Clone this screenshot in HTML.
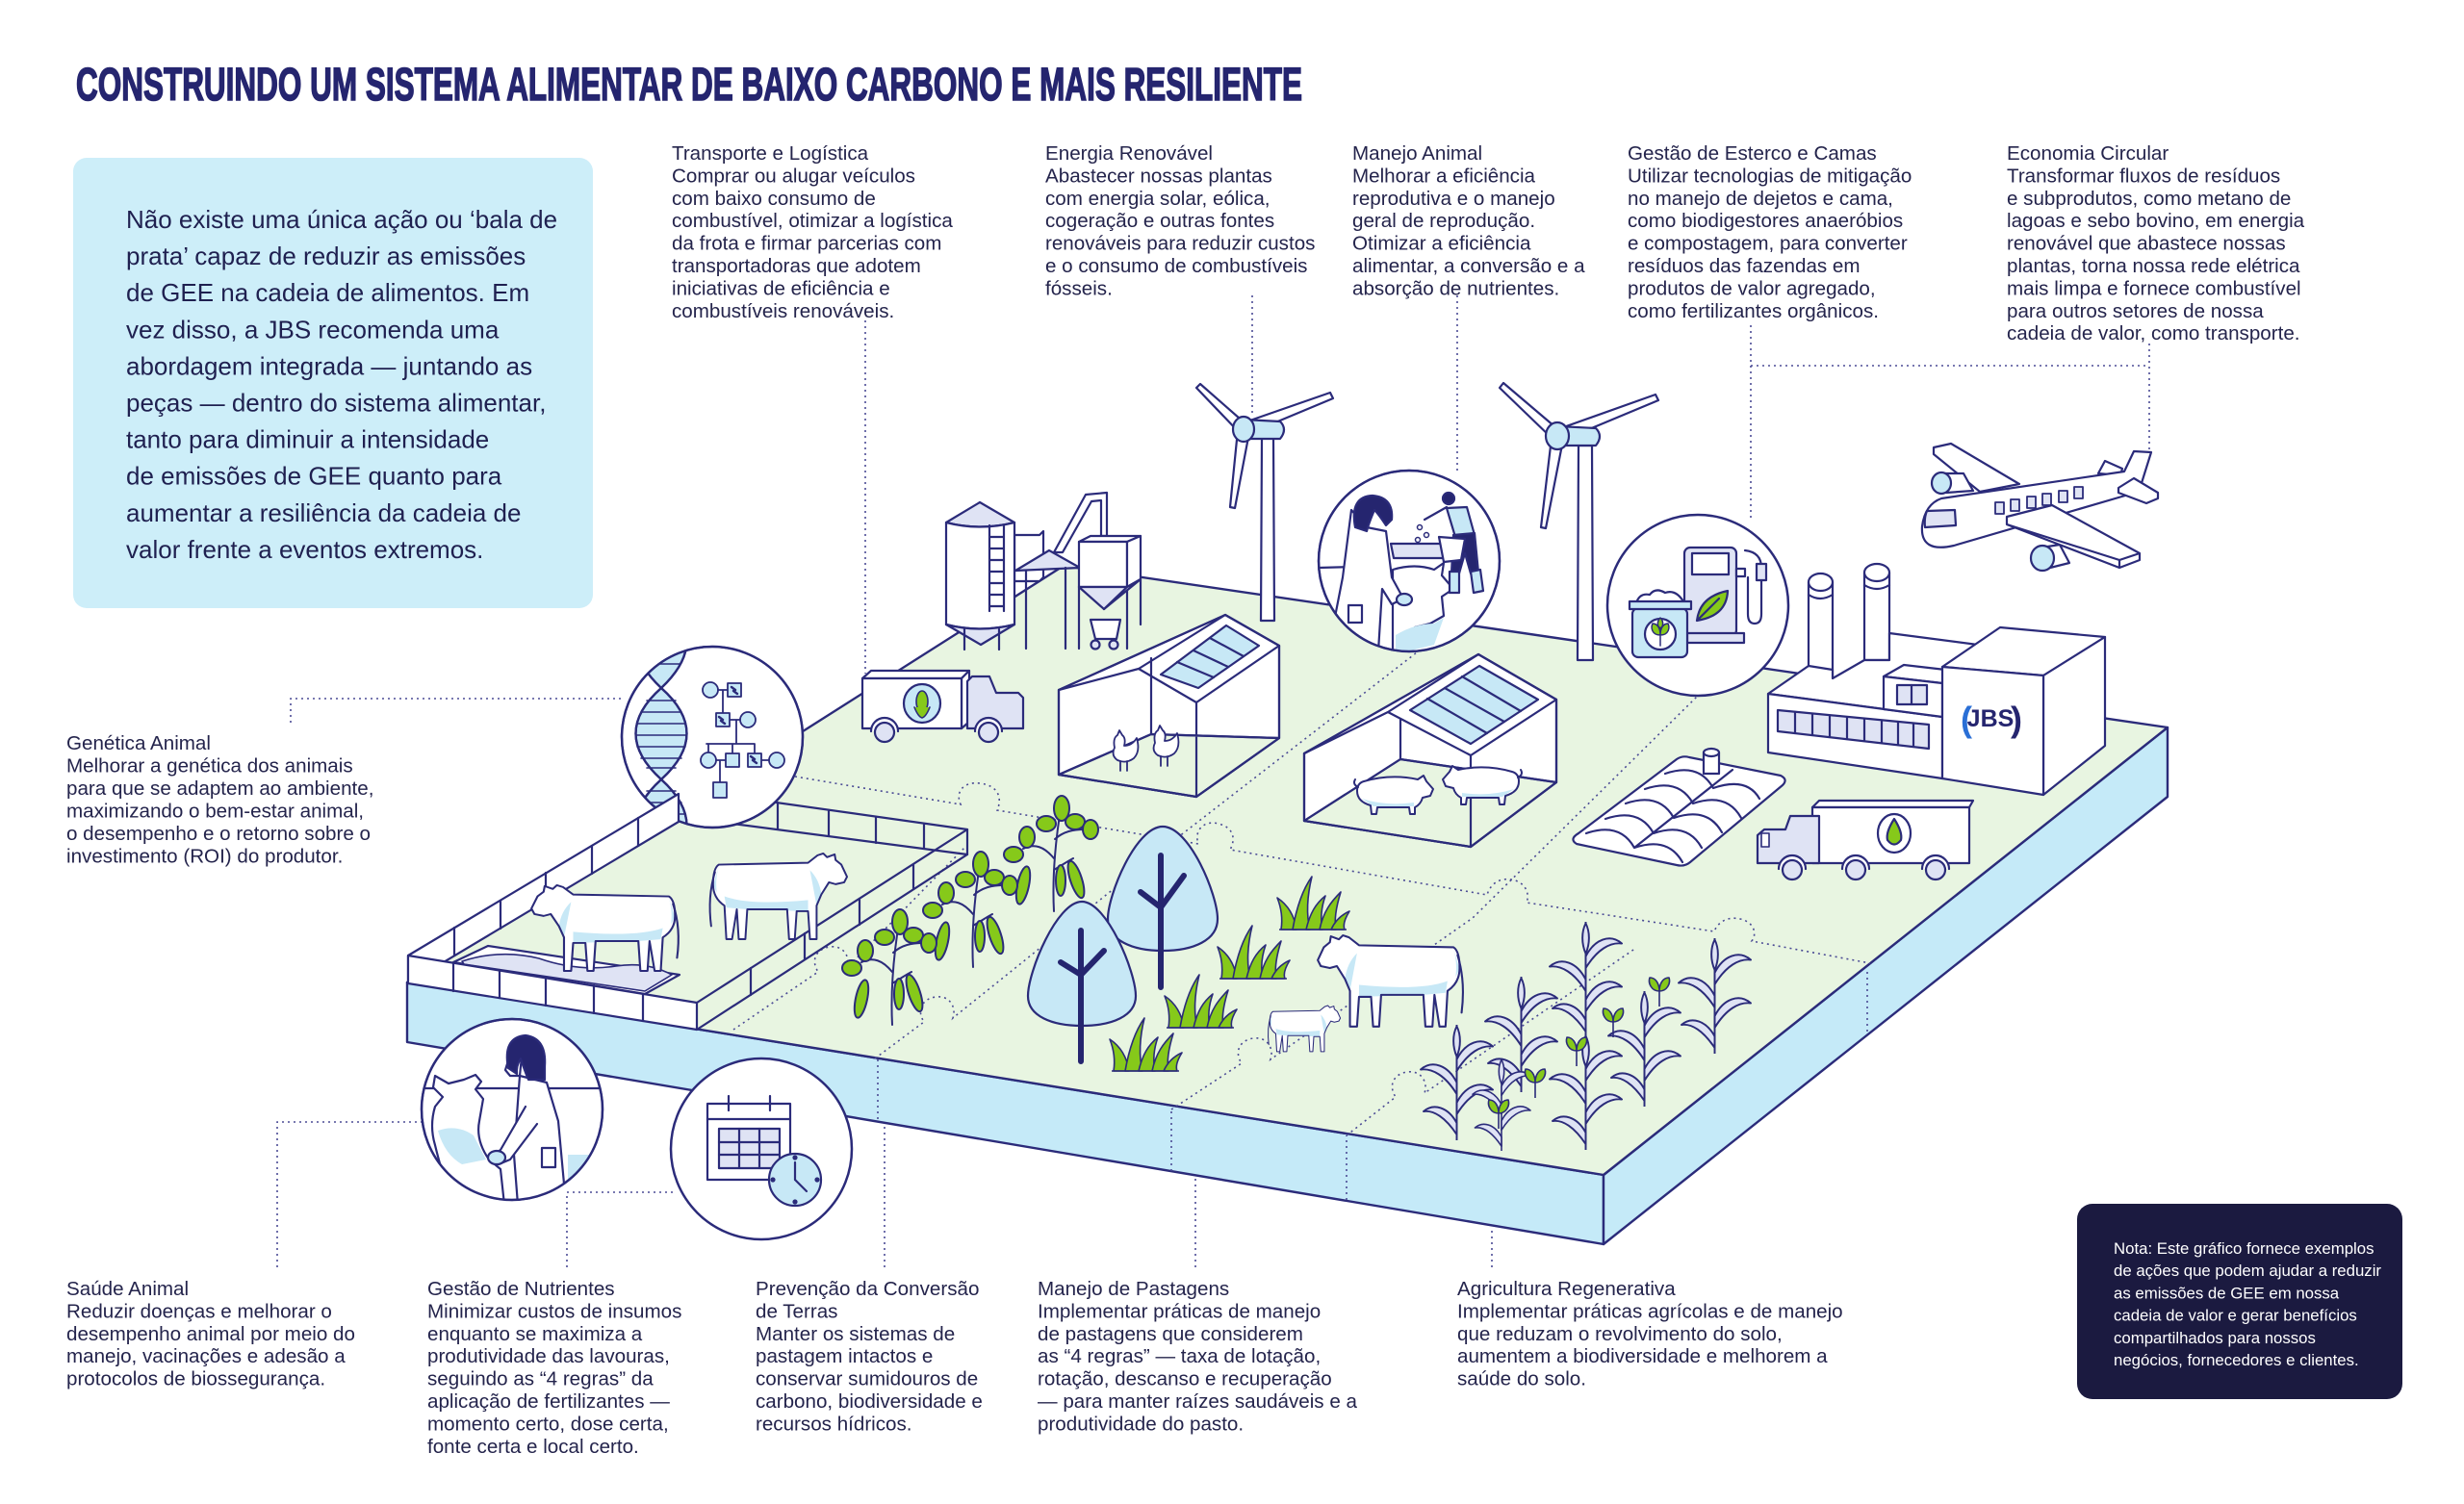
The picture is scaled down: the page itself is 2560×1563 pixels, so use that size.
<!DOCTYPE html>
<html lang="pt"><head><meta charset="utf-8"><title>Construindo um sistema alimentar de baixo carbono</title>
<style>
html,body{margin:0;padding:0;background:#fff;}
svg{display:block;}
text{font-family:"Liberation Sans",Arial,sans-serif;}
</style></head><body>
<svg width="2560" height="1563" viewBox="0 0 2560 1563" xmlns="http://www.w3.org/2000/svg" xmlns:xlink="http://www.w3.org/1999/xlink">
<defs>
<clipPath id="cDNA"><circle cx="740" cy="766" r="94"/></clipPath>
<clipPath id="cVet"><circle cx="532" cy="1153" r="94"/></clipPath>
<clipPath id="cMan"><circle cx="1464" cy="583" r="94"/></clipPath>
<g id="cow" stroke="#2b2b7a" stroke-width="2" stroke-linejoin="round" stroke-linecap="round">
<path fill="#fff" stroke="none" d="M18,14 L112,12 L122,4 L128,2 L132,6 L140,3 L141,9 L147,14 L153,27 L150,33 L141,35 L134,33 L126,46 L121,58 L121,94 L114,94 L112,64 L100,64 L98,94 L92,94 L90,62 L48,62 L46,94 L39,94 L37,62 L32,94 L26,94 L24,58 Q12,50 12,35 Q12,18 18,14 Z"/>
<path fill="#c7e8f6" stroke="none" d="M24,48 Q50,58 112,52 L112,64 L48,62 L26,60 Z M114,20 Q124,30 126,46 L121,58 Z M18,16 Q14,30 16,44 L12,36 Z"/>
<path fill="none" d="M18,14 L112,12 L122,4 L128,2 L132,6 L140,3 L141,9 L147,14 L153,27 L150,33 L141,35 L134,33 L126,46 L121,58 L121,94 L114,94 L112,64 L100,64 L98,94 L92,94 L90,62 L48,62 L46,94 L39,94 L37,62 L32,94 L26,94 L24,58 Q12,50 12,35 Q12,18 18,14 Z"/>
<path fill="none" d="M14,22 Q6,48 10,80"/>
</g>
<g id="pig" stroke="#2b2b7a" stroke-width="2" stroke-linejoin="round">
<path fill="#fff" d="M12,10 Q40,2 68,8 L74,4 L77,10 L84,18 L81,25 L73,27 Q71,34 65,37 L65,44 L60,44 L59,37 L26,37 L25,44 L20,44 L19,35 Q5,31 5,20 Q5,12 12,10Z"/>
<path fill="#c7e8f6" stroke="none" d="M10,28 Q35,36 64,32 L64,36 L22,36 Z"/>
<path fill="none" d="M6,16 Q0,13 3,8"/>
</g>
<g id="hen" stroke="#2b2b7a" stroke-width="1.8" stroke-linejoin="round">
<path fill="#fff" d="M10,20 Q8,10 13,7 L15,2 L18,7 Q22,10 20,18 Q28,18 33,10 Q37,24 30,31 Q22,37 13,33 Q6,28 10,20Z"/>
<path fill="none" d="M16,34 L16,44 M23,34 L23,44"/>
</g>
<g id="soy" stroke="#2b2b7a" stroke-width="2" stroke-linejoin="round" stroke-linecap="round">
<path fill="none" d="M50,117 C48,80 52,40 58,4 M50,62 C40,50 30,46 18,52 M51,42 C60,34 70,32 82,32 M50,74 C60,68 66,64 70,62"/>
<g fill="#86c91a">
<ellipse cx="58" cy="10" rx="8" ry="13"/>
<ellipse cx="42" cy="26" rx="10" ry="8"/>
<ellipse cx="72" cy="24" rx="10" ry="8"/>
<ellipse cx="22" cy="40" rx="8" ry="11"/>
<ellipse cx="8" cy="58" rx="10" ry="8"/>
<ellipse cx="88" cy="32" rx="8" ry="10"/>
<ellipse cx="73" cy="84" rx="6" ry="20" transform="rotate(-18 73 84)"/>
<ellipse cx="18" cy="90" rx="6" ry="20" transform="rotate(12 18 90)"/>
<ellipse cx="57" cy="85" rx="5" ry="16"/>
</g>
</g>
<g id="grass" stroke="#2b2b7a" stroke-width="1.6" stroke-linejoin="round" fill="#86c91a">
<path d="M4,55 C6,42 4,32 0,22 C12,30 18,42 20,55Z"/>
<path d="M16,55 C20,32 26,14 36,0 C31,20 30,40 34,55Z"/>
<path d="M30,55 C34,38 40,28 50,20 C45,34 45,45 47,55Z"/>
<path d="M44,55 C48,36 56,26 66,16 C61,32 59,45 61,55Z"/>
<path d="M56,55 C60,46 66,40 75,36 C70,44 68,50 70,55Z"/>
<path fill="none" d="M2,55 L72,55"/>
</g>
<g id="corn" stroke="#2b2b7a" stroke-width="2.6" stroke-linejoin="round" fill="#dfe3f4">
<path fill="none" d="M50,0 L50,160"/>
<path d="M50,2 C44,14 44,30 50,44 C56,30 56,14 50,2Z"/>
<path d="M50,48 C62,24 84,16 100,30 C84,28 66,38 50,64Z"/>
<path d="M50,80 C38,56 16,48 0,62 C16,60 34,70 50,96Z"/>
<path d="M50,108 C62,84 84,76 100,90 C84,88 66,98 50,124Z"/>
<path d="M50,136 C38,114 18,108 4,120 C18,118 34,128 50,152Z"/>
</g>
<g id="sprout" stroke="#2b2b7a" stroke-width="1.6" stroke-linejoin="round">
<path fill="none" d="M12,30 L12,12"/>
<path fill="#86c91a" d="M12,14 C4,14 0,6 2,0 C8,0 12,6 12,14Z M12,14 C20,14 24,6 22,0 C16,0 12,6 12,14Z"/>
</g>
</defs>

<!-- Title -->
<text x="79" y="104" font-size="48" font-weight="700" fill="#25256f" stroke="#25256f" stroke-width="1.6" textLength="1274" lengthAdjust="spacingAndGlyphs">CONSTRUINDO UM SISTEMA ALIMENTAR DE BAIXO CARBONO E MAIS RESILIENTE</text>

<!-- Intro box -->
<rect x="76" y="164" width="540" height="468" rx="14" fill="#cdeef9"/>
<text font-size="26" fill="#1f2050">
<tspan x="131" y="237">Não existe uma única ação ou ‘bala de</tspan>
<tspan x="131" dy="38.1">prata’ capaz de reduzir as emissões</tspan>
<tspan x="131" dy="38.1">de GEE na cadeia de alimentos. Em</tspan>
<tspan x="131" dy="38.1">vez disso, a JBS recomenda uma</tspan>
<tspan x="131" dy="38.1">abordagem integrada — juntando as</tspan>
<tspan x="131" dy="38.1">peças — dentro do sistema alimentar,</tspan>
<tspan x="131" dy="38.1">tanto para diminuir a intensidade</tspan>
<tspan x="131" dy="38.1">de emissões de GEE quanto para</tspan>
<tspan x="131" dy="38.1">aumentar a resiliência da cadeia de</tspan>
<tspan x="131" dy="38.1">valor frente a eventos extremos.</tspan>
</text>

<!-- Top labels -->
<g font-size="20.6" fill="#24244c">
<text><tspan x="698" y="166">Transporte e Logística</tspan><tspan x="698" dy="23.4">Comprar ou alugar veículos</tspan><tspan x="698" dy="23.4">com baixo consumo de</tspan><tspan x="698" dy="23.4">combustível, otimizar a logística</tspan><tspan x="698" dy="23.4">da frota e firmar parcerias com</tspan><tspan x="698" dy="23.4">transportadoras que adotem</tspan><tspan x="698" dy="23.4">iniciativas de eficiência e</tspan><tspan x="698" dy="23.4">combustíveis renováveis.</tspan></text>
<text><tspan x="1086" y="166">Energia Renovável</tspan><tspan x="1086" dy="23.4">Abastecer nossas plantas</tspan><tspan x="1086" dy="23.4">com energia solar, eólica,</tspan><tspan x="1086" dy="23.4">cogeração e outras fontes</tspan><tspan x="1086" dy="23.4">renováveis para reduzir custos</tspan><tspan x="1086" dy="23.4">e o consumo de combustíveis</tspan><tspan x="1086" dy="23.4">fósseis.</tspan></text>
<text><tspan x="1405" y="166">Manejo Animal</tspan><tspan x="1405" dy="23.4">Melhorar a eficiência</tspan><tspan x="1405" dy="23.4">reprodutiva e o manejo</tspan><tspan x="1405" dy="23.4">geral de reprodução.</tspan><tspan x="1405" dy="23.4">Otimizar a eficiência</tspan><tspan x="1405" dy="23.4">alimentar, a conversão e a</tspan><tspan x="1405" dy="23.4">absorção de nutrientes.</tspan></text>
<text><tspan x="1691" y="166">Gestão de Esterco e Camas</tspan><tspan x="1691" dy="23.4">Utilizar tecnologias de mitigação</tspan><tspan x="1691" dy="23.4">no manejo de dejetos e cama,</tspan><tspan x="1691" dy="23.4">como biodigestores anaeróbios</tspan><tspan x="1691" dy="23.4">e compostagem, para converter</tspan><tspan x="1691" dy="23.4">resíduos das fazendas em</tspan><tspan x="1691" dy="23.4">produtos de valor agregado,</tspan><tspan x="1691" dy="23.4">como fertilizantes orgânicos.</tspan></text>
<text><tspan x="2085" y="166">Economia Circular</tspan><tspan x="2085" dy="23.4">Transformar fluxos de resíduos</tspan><tspan x="2085" dy="23.4">e subprodutos, como metano de</tspan><tspan x="2085" dy="23.4">lagoas e sebo bovino, em energia</tspan><tspan x="2085" dy="23.4">renovável que abastece nossas</tspan><tspan x="2085" dy="23.4">plantas, torna nossa rede elétrica</tspan><tspan x="2085" dy="23.4">mais limpa e fornece combustível</tspan><tspan x="2085" dy="23.4">para outros setores de nossa</tspan><tspan x="2085" dy="23.4">cadeia de valor, como transporte.</tspan></text>

<!-- Left label -->
<text><tspan x="69" y="779">Genética Animal</tspan><tspan x="69" dy="23.5">Melhorar a genética dos animais</tspan><tspan x="69" dy="23.5">para que se adaptem ao ambiente,</tspan><tspan x="69" dy="23.5">maximizando o bem-estar animal,</tspan><tspan x="69" dy="23.5">o desempenho e o retorno sobre o</tspan><tspan x="69" dy="23.5">investimento (ROI) do produtor.</tspan></text>

<!-- Bottom labels -->
<text><tspan x="69" y="1346">Saúde Animal</tspan><tspan x="69" dy="23.4">Reduzir doenças e melhorar o</tspan><tspan x="69" dy="23.4">desempenho animal por meio do</tspan><tspan x="69" dy="23.4">manejo, vacinações e adesão a</tspan><tspan x="69" dy="23.4">protocolos de biossegurança.</tspan></text>
<text><tspan x="444" y="1346">Gestão de Nutrientes</tspan><tspan x="444" dy="23.4">Minimizar custos de insumos</tspan><tspan x="444" dy="23.4">enquanto se maximiza a</tspan><tspan x="444" dy="23.4">produtividade das lavouras,</tspan><tspan x="444" dy="23.4">seguindo as “4 regras” da</tspan><tspan x="444" dy="23.4">aplicação de fertilizantes —</tspan><tspan x="444" dy="23.4">momento certo, dose certa,</tspan><tspan x="444" dy="23.4">fonte certa e local certo.</tspan></text>
<text><tspan x="785" y="1346">Prevenção da Conversão</tspan><tspan x="785" dy="23.4">de Terras</tspan><tspan x="785" dy="23.4">Manter os sistemas de</tspan><tspan x="785" dy="23.4">pastagem intactos e</tspan><tspan x="785" dy="23.4">conservar sumidouros de</tspan><tspan x="785" dy="23.4">carbono, biodiversidade e</tspan><tspan x="785" dy="23.4">recursos hídricos.</tspan></text>
<text><tspan x="1078" y="1346">Manejo de Pastagens</tspan><tspan x="1078" dy="23.4">Implementar práticas de manejo</tspan><tspan x="1078" dy="23.4">de pastagens que considerem</tspan><tspan x="1078" dy="23.4">as “4 regras” — taxa de lotação,</tspan><tspan x="1078" dy="23.4">rotação, descanso e recuperação</tspan><tspan x="1078" dy="23.4">— para manter raízes saudáveis e a</tspan><tspan x="1078" dy="23.4">produtividade do pasto.</tspan></text>
<text><tspan x="1514" y="1346">Agricultura Regenerativa</tspan><tspan x="1514" dy="23.4">Implementar práticas agrícolas e de manejo</tspan><tspan x="1514" dy="23.4">que reduzam o revolvimento do solo,</tspan><tspan x="1514" dy="23.4">aumentem a biodiversidade e melhorem a</tspan><tspan x="1514" dy="23.4">saúde do solo.</tspan></text>
</g>

<!-- Note box -->
<rect x="2158" y="1251" width="338" height="203" rx="16" fill="#1b1a40"/>
<text font-size="16.8" fill="#ffffff">
<tspan x="2196" y="1303">Nota: Este gráfico fornece exemplos</tspan>
<tspan x="2196" dy="23.2">de ações que podem ajudar a reduzir</tspan>
<tspan x="2196" dy="23.2">as emissões de GEE em nossa</tspan>
<tspan x="2196" dy="23.2">cadeia de valor e gerar benefícios</tspan>
<tspan x="2196" dy="23.2">compartilhados para nossos</tspan>
<tspan x="2196" dy="23.2">negócios, fornecedores e clientes.</tspan>
</text>

<!-- Connector dotted lines -->
<g fill="none" stroke="#4b4b95" stroke-width="1.6" stroke-dasharray="2 4">
<path d="M899,333 L899,700"/>
<path d="M1301,307 L1301,432"/>
<path d="M1514,307 L1514,492"/>
<path d="M1819,338 L1819,540 M1819,380 L2233,380 M2233,357 L2233,470"/>
<path d="M302,751 L302,726 L648,726"/>
<path d="M288,1317 L288,1166 L440,1166"/>
<path d="M589,1317 L589,1239 L700,1239"/>
<path d="M919,1317 L919,1166"/>
<path d="M1242,1317 L1242,1222"/>
<path d="M1550,1317 L1550,1277"/>
</g>

<!-- Platform -->
<g stroke="#2b2b7a" stroke-width="2.4" stroke-linejoin="round">
<polygon points="423,1021 1666,1221 1666,1293 423,1083" fill="#c5eaf8"/>
<polygon points="1666,1221 2252,756 2252,828 1666,1293" fill="#c5eaf8"/>
<polygon points="423,1021 1105,588 2252,756 1666,1221" fill="#e8f5e1"/>
</g>

<!-- Platform dotted lines -->
<g fill="none" stroke="#4b4b95" stroke-width="1.6" stroke-dasharray="2 4">
<path d="M826,807 L998,836 C992,822 1002,812 1018,814 C1036,816 1042,828 1036,842 L1245,877 C1240,862 1252,852 1266,856 C1282,860 1284,872 1278,883 L1545,930 C1548,920 1556,912 1570,914 C1584,916 1590,928 1586,938 L1781,968 C1785,958 1795,952 1808,955 C1822,958 1826,970 1820,978 L1943,1001"/>
<path d="M762,1070 L850,1010 C842,998 848,986 862,984 C876,982 884,994 880,1006 L1003,880"/>
<path d="M909,1100 L960,1062 C952,1050 958,1038 972,1036 C986,1034 994,1046 990,1058 L1224,870 L1472,678"/>
<path d="M1217,1153 L1290,1105 C1282,1093 1288,1081 1302,1079 C1316,1077 1324,1089 1320,1101 L1530,954 L1763,724"/>
<path d="M1399,1180 L1450,1140 C1442,1128 1448,1116 1462,1114 C1476,1112 1484,1124 1480,1136 L1700,985"/>
<path d="M912,1163 L912,1100"/>
<path d="M1217,1217 L1217,1153"/>
<path d="M1399,1247 L1399,1180"/>
<path d="M1940,1072 L1940,1006"/>
</g>

<g stroke="#2b2b7a" stroke-width="2.2" stroke-linejoin="round" stroke-linecap="round">

<!-- Silos -->
<polygon points="1054,556 1080,556 1084,552 1084,600 1080,604 1054,604" fill="#fff"/>
<path d="M1095,574 L1128,514 L1150,512 L1150,557 L1144,557 L1144,520 L1134,521 L1104,574 Z" fill="#fff"/>
<path d="M983,543 L1018,522 L1054,543 Q1018,552 983,543Z" fill="#dfe3f4"/>
<path d="M983,543 Q1018,552 1054,543 L1054,649 Q1018,658 983,649Z" fill="#fff"/>
<path d="M983,649 Q1018,658 1054,649 L1019,670Z" fill="#dfe3f4"/>
<path d="M1002,654 L1002,675 M1038,654 L1038,675 M1028,546 L1028,635 M1043,546 L1043,635 M1028,558 L1043,558 M1028,570 L1043,570 M1028,582 L1043,582 M1028,594 L1043,594 M1028,606 L1043,606 M1028,618 L1043,618 M1028,630 L1043,630" fill="none"/>
<polygon points="1055,593 1090,572 1122,590" fill="#dfe3f4"/>
<path d="M1066,593 L1066,674 M1107,590 L1107,674 M1121,610 L1121,674 M1171,610 L1171,674 M1185,602 L1185,649" fill="none"/>
<polygon points="1121,563 1133,557 1185,557 1171,563" fill="#fff"/>
<rect x="1121" y="563" width="50" height="47" fill="#fff"/>
<polygon points="1171,563 1185,557 1185,602 1171,610" fill="#fff"/>
<polygon points="1121,610 1171,610 1147,633" fill="#dfe3f4"/>
<polygon points="1171,610 1185,602 1147,633" fill="#dfe3f4"/>
<polygon points="1133,644 1164,644 1160,664 1138,664" fill="#fff"/>
<circle cx="1138" cy="670" r="4.5" fill="#dfe3f4"/>
<circle cx="1157" cy="670" r="4.5" fill="#dfe3f4"/>

<!-- Windmill 1 -->
<polygon points="1311,455 1323,455 1324,645 1310,645" fill="#fff"/>
<polygon points="1296,442 1247,399 1243,403 1288,450" fill="#fff"/>
<polygon points="1290,440 1382,408 1385,414 1294,452" fill="#fff"/>
<polygon points="1286,447 1278,527 1283,528 1298,449" fill="#fff"/>
<path d="M1292,436 L1330,438 Q1338,446 1330,456 L1292,456 Z" fill="#c7e8f6"/>
<ellipse cx="1292" cy="446" rx="11" ry="13" fill="#c7e8f6"/>

<!-- Windmill 2 -->
<polygon points="1640,463 1654,463 1655,686 1639,686" fill="#fff"/>
<polygon points="1622,449 1562,398 1558,403 1614,457" fill="#fff"/>
<polygon points="1616,447 1720,410 1723,416 1620,459" fill="#fff"/>
<polygon points="1612,455 1601,548 1606,549 1624,457" fill="#fff"/>
<path d="M1618,443 L1658,445 Q1666,453 1658,463 L1618,463 Z" fill="#c7e8f6"/>
<ellipse cx="1618" cy="453" rx="12" ry="14" fill="#c7e8f6"/>

<!-- Manejo Animal circle -->
<circle cx="1464" cy="583" r="94" fill="#fff"/>
<g clip-path="url(#cMan)">
<line x1="1369" y1="590" x2="1443" y2="588"/>
<polygon points="1445,565 1498,565 1505,580 1448,580" fill="#dfe3f4"/>
<path d="M1447,592 Q1470,585 1490,592 L1500,585 L1498,598 L1510,612 L1498,620 L1500,640 L1486,648 L1470,652 L1460,672 L1447,680 Z" fill="#fff"/>
<path d="M1450,660 Q1470,648 1490,648 L1500,642 L1490,670 L1450,680Z" fill="#c7e8f6" stroke="none"/>
<path d="M1404,530 L1420,548 L1440,552 L1446,600 L1458,622 L1446,628 L1436,612 L1432,677 L1380,677 L1395,600 Z" fill="#fff"/>
<rect x="1401" y="629" width="14" height="18" fill="#fff"/>
<ellipse cx="1459" cy="623" rx="8" ry="6" fill="#c7e8f6"/>
<path d="M1408,548 Q1402,516 1426,515 Q1448,517 1446,540 L1440,546 Q1432,534 1428,530 Q1422,544 1420,552Z" fill="#25256f"/>
<path d="M1503,528 L1524,527 L1532,556 L1512,558 Z" fill="#c7e8f6"/>
<path d="M1510,556 L1532,554 L1536,595 L1528,596 L1522,575 L1516,596 L1508,596Z" fill="#25256f"/>
<path d="M1506,594 L1516,594 L1516,616 L1506,616Z M1528,594 L1538,592 L1541,614 L1531,616Z" fill="#c7e8f6"/>
<path d="M1495,558 L1522,560 L1518,582 L1500,584 Z" fill="#fff"/>
<path d="M1503,527 L1480,540" fill="none"/>
<circle cx="1505" cy="518" r="6" fill="#25256f"/>
<circle cx="1475" cy="548" r="2.5" fill="#fff" stroke-width="1.5"/>
<circle cx="1482" cy="556" r="2.5" fill="#fff" stroke-width="1.5"/>
<circle cx="1473" cy="561" r="2.5" fill="#fff" stroke-width="1.5"/>
</g>
<circle cx="1464" cy="583" r="94" fill="none" stroke-width="2.5"/>

<!-- Fuel circle -->
<circle cx="1764" cy="629" r="94" fill="#fff" stroke-width="2.5"/>
<rect x="1750" y="569" width="54" height="92" rx="6" fill="#dfe3f4"/>
<rect x="1758" y="575" width="38" height="22" fill="#fff"/>
<rect x="1753" y="658" width="59" height="10" fill="#dfe3f4"/>
<rect x="1804" y="591" width="9" height="8" fill="#fff"/>
<path d="M1813,572 Q1830,574 1830,590 L1830,638 Q1830,648 1823,648 Q1816,648 1816,638 L1816,600" fill="none"/>
<rect x="1825" y="586" width="10" height="17" fill="#dfe3f4"/>
<path d="M1763,645 Q1766,620 1795,614 Q1794,640 1763,645Z M1763,645 L1786,622" fill="#86c91a"/>
<path d="M1700,627 Q1703,616 1714,618 Q1720,610 1730,616 Q1742,612 1750,627Z" fill="#fff"/>
<rect x="1696" y="632" width="57" height="51" rx="6" fill="#c7e8f6"/>
<rect x="1693" y="625" width="64" height="8" fill="#c7e8f6"/>
<circle cx="1725" cy="659" r="16" fill="#fff"/>
<path d="M1725,671 L1725,652 M1725,660 C1716,660 1715,652 1717,648 C1722,648 1725,653 1725,660Z M1725,660 C1734,660 1735,652 1733,648 C1728,648 1725,653 1725,660Z M1725,654 C1721,650 1722,645 1725,642 C1728,645 1729,650 1725,654Z" fill="#86c91a" stroke-width="1.5"/>

<!-- Factory -->
<rect x="1879" y="605" width="25" height="108" fill="#fff"/>
<ellipse cx="1891.5" cy="605" rx="12.5" ry="9" fill="#fff"/>
<path d="M1879,618 Q1891,626 1904,618" fill="none"/>
<rect x="1937" y="595" width="26" height="91" fill="#fff"/>
<ellipse cx="1950" cy="595" rx="13" ry="9" fill="#fff"/>
<path d="M1937,608 Q1950,616 1963,608" fill="none"/>
<polygon points="1837,721 1879,692 1904,696 1904,705 1937,686 1963,686 1963,658 2070,672 2018,745" fill="#fff"/>
<polygon points="1837,721 2018,745 2018,809 1837,782" fill="#fff"/>
<polygon points="1847,738 2004,753 2004,778 1847,760" fill="#dfe3f4"/>
<path d="M1865,740 L1865,762 M1883,742 L1883,764 M1901,744 L1901,766 M1919,746 L1919,768 M1937,747 L1937,770 M1955,749 L1955,772 M1972,750 L1972,774 M1988,752 L1988,776" fill="none"/>
<polygon points="1957,703 1978,691 2030,697 2018,710" fill="#fff"/>
<polygon points="1957,703 2018,710 2018,745 1957,737" fill="#fff"/>
<rect x="1971" y="712" width="31" height="20" fill="#dfe3f4"/>
<line x1="1986" y1="712" x2="1986" y2="732"/>
<polygon points="2018,693 2078,652 2187,662 2123,702" fill="#fff"/>
<polygon points="2123,702 2187,662 2187,775 2123,826" fill="#fff"/>
<polygon points="2018,693 2123,702 2123,826 2018,809" fill="#fff"/>
</g>
<text x="2037" y="760" font-size="36" font-weight="700" fill="#2a6fd6">(</text>
<text x="2068" y="755" font-size="25" font-weight="700" fill="#25256f" text-anchor="middle">JBS</text>
<text x="2089" y="760" font-size="36" font-weight="700" fill="#25256f">)</text>

<!-- Airplane -->
<g stroke="#2b2b7a" stroke-width="2.2" stroke-linejoin="round">
<polygon points="2009,465 2027,461 2098,503 2057,511 2009,472" fill="#fff"/>
<path d="M2017,492 L2040,492 L2050,510 L2022,512 Z" fill="#fff"/>
<ellipse cx="2017" cy="502" rx="10" ry="11" fill="#c7e8f6"/>
<polygon points="2180,492 2187,479 2205,487 2203,494" fill="#fff"/>
<path d="M2017,518 L2207,490 L2217,469 L2235,470 L2225,502 L2208,515 L2030,567 Q1995,575 1997,547 Q2000,524 2017,518 Z" fill="#fff"/>
<polygon points="2201,507 2217,497 2242,512 2242,518 2230,523 2201,512" fill="#fff"/>
<path d="M2002,531 L2031,530 L2032,546 L2000,548 Q1999,538 2002,531Z" fill="#dfe3f4"/>
<g fill="#dfe3f4" stroke-width="1.8">
<rect x="2073" y="522" width="9" height="12"/>
<rect x="2089" y="519" width="9" height="12"/>
<rect x="2106" y="516" width="9" height="12"/>
<rect x="2122" y="513" width="9" height="12"/>
<rect x="2139" y="510" width="9" height="12"/>
<rect x="2155" y="506" width="9" height="12"/>
</g>
<path d="M2115,570 L2140,566 L2150,585 L2122,592 Z" fill="#fff"/>
<ellipse cx="2122" cy="580" rx="12" ry="13" fill="#c7e8f6"/>
<polygon points="2085,537 2132,525 2223,575 2223,582 2202,590 2085,545" fill="#fff"/>
<path d="M2085,545 L2202,582 L2223,575 M2202,582 L2202,590" fill="none"/>
</g>

<!-- Biodigester -->
<g stroke="#2b2b7a" stroke-width="2.2" stroke-linejoin="round" stroke-linecap="round">
<path d="M1640,866 L1742,789 Q1748,785 1755,787 L1850,806 Q1858,810 1852,816 L1756,896 Q1750,901 1742,899 L1638,877 Q1630,872 1640,866Z" fill="#fff"/>
<path d="M1648,866 Q1683,854 1698,881 Q1733,869 1748,896 M1668,851 Q1703,839 1718,866 Q1753,854 1768,881 M1689,835 Q1724,823 1739,850 Q1774,838 1789,865 M1709,820 Q1744,808 1759,835 Q1794,823 1809,850 M1730,804 Q1765,792 1780,819 Q1815,807 1828,830 M1698,881 L1800,800" fill="none"/>
<rect x="1770" y="782" width="16" height="22" fill="#fff"/>
<ellipse cx="1778" cy="782" rx="8" ry="4" fill="#fff"/>

<!-- Truck 2 -->
<polygon points="1883,839 1890,832 2050,832 2046,839" fill="#fff"/>
<rect x="1883" y="839" width="163" height="58" fill="#fff"/>
<polygon points="1890,848 1860,848 1855,862 1833,862 1826,868 1826,897 1890,897" fill="#dfe3f4"/>
<rect x="1830" y="866" width="8" height="14" fill="#fff" stroke-width="1.6"/>
<path d="M1848,903 A14,14 0 0 1 1876,903 M1914,903 A14,14 0 0 1 1942,903 M1997,903 A14,14 0 0 1 2025,903" fill="#fff"/>
<circle cx="1862" cy="904" r="10" fill="#dfe3f4"/>
<circle cx="1928" cy="904" r="10" fill="#dfe3f4"/>
<circle cx="2011" cy="904" r="10" fill="#dfe3f4"/>
<ellipse cx="1968" cy="866" rx="17" ry="20" fill="#fff"/>
<path d="M1968,851 Q1977,865 1975,873 Q1968,882 1961,873 Q1959,865 1968,851Z" fill="#86c91a"/>

<!-- House 1 (chickens) -->
<polygon points="1100,717 1273,639 1329,671 1329,767 1243,828 1100,805" fill="#fff"/>
<polygon points="1100,805 1196,763 1329,767 1243,828" fill="#e8f5e1"/>
<path d="M1100,717 L1183,695 L1243,730 M1183,695 L1273,639 M1243,730 L1329,671 M1243,730 L1243,828 M1196,763 L1196,684 M1100,805 L1196,763 L1329,767" fill="none"/>
<polygon points="1100,717 1273,639 1329,671 1329,767 1243,828 1100,805" fill="none"/>
<polygon points="1206,701 1274,650 1308,671 1245,715" fill="#c7e8f6"/>
<path d="M1223,688 L1261,704 M1240,676 L1276,693 M1257,663 L1292,682" fill="none"/>
<use xlink:href="#hen" href="#hen" transform="translate(1148,757)"/>
<use xlink:href="#hen" href="#hen" transform="translate(1190,752)"/>

<!-- House 2 (pigs) -->
<polygon points="1355,783 1536,680 1617,727 1617,813 1528,880 1355,853" fill="#fff"/>
<polygon points="1355,853 1455,789 1617,813 1528,880" fill="#e8f5e1"/>
<path d="M1355,783 L1442,740 L1528,785 M1442,740 L1536,680 M1528,785 L1617,727 M1528,785 L1528,880 M1455,789 L1455,748 M1355,853 L1455,789 L1617,813" fill="none"/>
<polygon points="1355,783 1536,680 1617,727 1617,813 1528,880 1355,853" fill="none"/>
<polygon points="1465,738 1537,692 1598,727 1528,773" fill="#c7e8f6"/>
<path d="M1483,726 L1545,762 M1501,715 L1563,750 M1519,703 L1580,739" fill="none"/>
<use xlink:href="#pig" href="#pig" transform="translate(1405,802)"/>
<use xlink:href="#pig" href="#pig" transform="translate(1583,792) scale(-1,1)"/>

<!-- Truck 1 -->
<polygon points="896,705 905,697 1007,697 999,705" fill="#fff"/>
<polygon points="999,705 1007,697 1007,750 999,757" fill="#fff"/>
<rect x="896" y="705" width="103" height="52" fill="#fff"/>
<polygon points="1005,708 1010,703 1028,703 1035,720 1058,720 1063,725 1063,757 1005,757" fill="#dfe3f4"/>
<path d="M905,760 A14,14 0 0 1 933,760 M1013,760 A14,14 0 0 1 1041,760" fill="#fff"/>
<circle cx="919" cy="761" r="10" fill="#dfe3f4"/>
<circle cx="1027" cy="761" r="10" fill="#dfe3f4"/>
<ellipse cx="958" cy="731" rx="19" ry="20" fill="#c7e8f6"/>
<ellipse cx="958" cy="729" rx="6" ry="11" fill="#86c91a" stroke-width="1.6"/>
<path d="M950,735 Q954,745 958,746 Q962,745 966,735" fill="#86c91a" stroke-width="1.6"/>

<!-- Pen back and right walls -->
<path d="M700,819 L1005,862 L1005,888 L700,848 M808,834 L808,862 M861,842 L861,869 M910,849 L910,876 M960,856 L960,882" fill="none"/>
<path d="M724,1042 L1005,862 M724,1070 L1005,888 M780,1006 L780,1034 M836,970 L836,997 M893,934 L893,961 M949,898 L949,924" fill="none"/>
</g>

<!-- DNA circle -->
<g stroke="#2b2b7a" stroke-width="2.2" stroke-linejoin="round" stroke-linecap="round">
<circle cx="740" cy="766" r="94" fill="#fff"/>
<g clip-path="url(#cDNA)">
<path d="M687,620 Q740,665 687,715 Q634,762 687,810 Q740,858 687,905 Q634,858 687,810 Q740,762 687,715 Q634,665 687,620Z" fill="#c7e8f6"/>
<path d="M670,630 L704,630 M664,645 L710,645 M660,660 L714,660 M662,675 L712,675 M667,690 L707,690 M672,728 L702,728 M666,740 L708,740 M662,752 L712,752 M661,764 L713,764 M662,776 L712,776 M666,788 L708,788 M672,798 L702,798 M672,822 L702,822 M666,834 L708,834 M662,846 L712,846 M661,858 L713,858 M664,870 L710,870" fill="none" stroke-width="1.6"/>
<path d="M687,620 Q740,665 687,715 Q634,762 687,810 Q740,858 687,905 M687,620 Q634,665 687,715 Q740,762 687,810 Q634,858 687,905" fill="none" stroke-width="2.4"/>
</g>
<circle cx="740" cy="766" r="94" fill="none" stroke-width="2.5"/>
<g fill="#c7e8f6" stroke-width="1.8">
<path d="M746,717 L757,717 M751,717 L751,748 M758,748 L770,748 M765,748 L765,773 M734,773 L784,773 M736,773 L736,790 M761,773 L761,790 M784,773 L784,790 M743,790 L754,790 M789,790 L800,790 M748,790 L748,820" fill="none"/>
<circle cx="738" cy="717" r="8"/>
<rect x="756" y="710" width="14" height="14"/>
<rect x="744" y="741" width="14" height="14"/>
<circle cx="777" cy="748" r="8"/>
<circle cx="736" cy="790" r="8"/>
<rect x="754" y="783" width="14" height="14"/>
<rect x="777" y="783" width="14" height="14"/>
<circle cx="807" cy="790" r="8"/>
<rect x="741" y="813" width="14" height="16"/>
</g>
<path d="M760,714 l4,3 M762,718 l4,3 M747,745 l4,3 M749,749 l4,3 M780,786 l4,3 M782,790 l4,3" stroke-width="2.4"/>
</g>

<!-- Pen front and left walls + trough -->
<g stroke="#2b2b7a" stroke-width="2.2" stroke-linejoin="round" stroke-linecap="round">
<polygon points="424,993 705,825 705,854 424,1022" fill="#fff"/>
<path d="M472,964 L472,993 M520,936 L520,965 M567,907 L567,936 M615,879 L615,908 M663,850 L663,879" fill="none"/>
<polygon points="471,1000 507,983 706,1013 670,1033" fill="#fff"/>
<path d="M480,999 Q520,986 560,996 Q600,1010 640,1004 Q672,999 698,1013 L670,1030 L482,1002Z" fill="#dfe3f4" stroke-width="1.6"/>
<use xlink:href="#cow" href="#cow" transform="translate(714,918) scale(-1.058,0.968)"/>
<use xlink:href="#cow" href="#cow" transform="translate(729,885) scale(0.987,0.968)"/>
<polygon points="424,993 724,1042 724,1070 424,1022" fill="#fff"/>
<path d="M471,1001 L471,1030 M519,1008 L519,1037 M567,1016 L567,1045 M617,1024 L617,1053 M668,1033 L668,1061" fill="none"/>
</g>

<!-- Soy plants -->
<use xlink:href="#soy" href="#soy" transform="translate(1045,830)"/>
<use xlink:href="#soy" href="#soy" transform="translate(961,888)"/>
<use xlink:href="#soy" href="#soy" transform="translate(877,948)"/>

<!-- Trees -->
<g stroke="#2b2b7a" stroke-width="2.2" stroke-linejoin="round" stroke-linecap="round">
<path d="M1208,859 C1236,859 1265,930 1265,955 C1265,977 1240,988 1208,988 C1176,988 1151,977 1151,955 C1151,930 1180,859 1208,859Z" fill="#c7e8f6"/>
<path d="M1206,889 L1206,1026 M1206,943 L1185,927 M1206,943 L1230,910" fill="none" stroke="#25256f" stroke-width="6"/>
<path d="M1124,937 C1150,937 1180,1010 1180,1035 C1180,1056 1155,1066 1124,1066 C1093,1066 1068,1056 1068,1035 C1068,1010 1098,937 1124,937Z" fill="#c7e8f6"/>
<path d="M1123,967 L1123,1103 M1123,1013 L1102,1000 M1123,1013 L1147,988" fill="none" stroke="#25256f" stroke-width="6"/>
</g>

<!-- Grass -->
<use xlink:href="#grass" href="#grass" transform="translate(1327,911)"/>
<use xlink:href="#grass" href="#grass" transform="translate(1265,962)"/>
<use xlink:href="#grass" href="#grass" transform="translate(1210,1013)"/>
<use xlink:href="#grass" href="#grass" transform="translate(1153,1058)"/>

<!-- Cows on pasture -->
<use xlink:href="#cow" href="#cow" transform="translate(1529,970) scale(-1.045,1.03)"/>
<use xlink:href="#cow" href="#cow" transform="translate(1313,1044) scale(0.52,0.52)"/>

<!-- Corn -->
<use xlink:href="#corn" href="#corn" transform="translate(1744,975) scale(0.75)"/>
<use xlink:href="#corn" href="#corn" transform="translate(1610,958) scale(0.75)"/>
<use xlink:href="#corn" href="#corn" transform="translate(1671,1030) scale(0.75)"/>
<use xlink:href="#corn" href="#corn" transform="translate(1543,1015) scale(0.75)"/>
<use xlink:href="#corn" href="#corn" transform="translate(1476,1065) scale(0.75)"/>
<use xlink:href="#corn" href="#corn" transform="translate(1610,1075) scale(0.75)"/>
<use xlink:href="#corn" href="#corn" transform="translate(1530,1100) scale(0.6)"/>
<use xlink:href="#sprout" href="#sprout" transform="translate(1712,1016)"/>
<use xlink:href="#sprout" href="#sprout" transform="translate(1664,1048)"/>
<use xlink:href="#sprout" href="#sprout" transform="translate(1626,1078)"/>
<use xlink:href="#sprout" href="#sprout" transform="translate(1583,1111)"/>
<use xlink:href="#sprout" href="#sprout" transform="translate(1545,1143)"/>

<!-- Vet circle -->
<g stroke="#2b2b7a" stroke-width="2.2" stroke-linejoin="round" stroke-linecap="round">
<circle cx="532" cy="1153" r="94" fill="#fff"/>
<g clip-path="url(#cVet)">
<line x1="437" y1="1131" x2="627" y2="1131"/>
<rect x="590" y="1200" width="45" height="60" fill="#c7e8f6" stroke="none"/>
<path d="M452,1118 L466,1126 L482,1122 L494,1117 L500,1124 L494,1132 L502,1142 L498,1165 Q494,1185 508,1205 L520,1215 L524,1252 L470,1252 Q458,1215 452,1190 Q446,1170 452,1150 L460,1140 L450,1130 Z" fill="#fff"/>
<path d="M455,1175 Q475,1168 492,1180 L505,1205 L480,1210 Q462,1200 455,1175Z" fill="#c7e8f6" stroke="none"/>
<path d="M540,1118 L568,1125 L580,1165 L588,1252 L538,1252 L534,1200 Z" fill="#fff"/>
<path d="M546,1150 L520,1195 L512,1200 L518,1210 L530,1205 L558,1168" fill="#fff"/>
<ellipse cx="516" cy="1203" rx="9" ry="7" fill="#c7e8f6"/>
<rect x="563" y="1193" width="14" height="20" fill="#fff"/>
<path d="M530,1096 L525,1112 L530,1118 L540,1118 L542,1098Z" fill="#fff"/>
<path d="M528,1110 Q522,1078 546,1076 Q568,1079 566,1108 L566,1122 L549,1122 Q544,1110 541,1100 Q536,1108 537,1116Z" fill="#25256f"/>
</g>
<circle cx="532" cy="1153" r="94" fill="none" stroke-width="2.5"/>

<!-- Calendar circle -->
<circle cx="791" cy="1194" r="94" fill="#fff" stroke-width="2.5"/>
<rect x="735" y="1147" width="86" height="79" fill="#fff"/>
<line x1="735" y1="1163" x2="821" y2="1163"/>
<line x1="757" y1="1139" x2="757" y2="1154"/>
<line x1="800" y1="1139" x2="800" y2="1154"/>
<rect x="747" y="1173" width="63" height="41" fill="#dfe3f4"/>
<path d="M768,1173 L768,1214 M789,1173 L789,1214 M747,1187 L810,1187 M747,1200 L810,1200" fill="none"/>
<circle cx="826" cy="1226" r="27" fill="#c7e8f6"/>
<path d="M826,1226 L826,1208 M826,1226 L838,1238" fill="none"/>
<circle cx="826" cy="1203" r="1.5" fill="#2b2b7a"/>
<circle cx="826" cy="1249" r="1.5" fill="#2b2b7a"/>
<circle cx="803" cy="1226" r="1.5" fill="#2b2b7a"/>
<circle cx="849" cy="1226" r="1.5" fill="#2b2b7a"/>
</g>
</svg>
</body></html>
